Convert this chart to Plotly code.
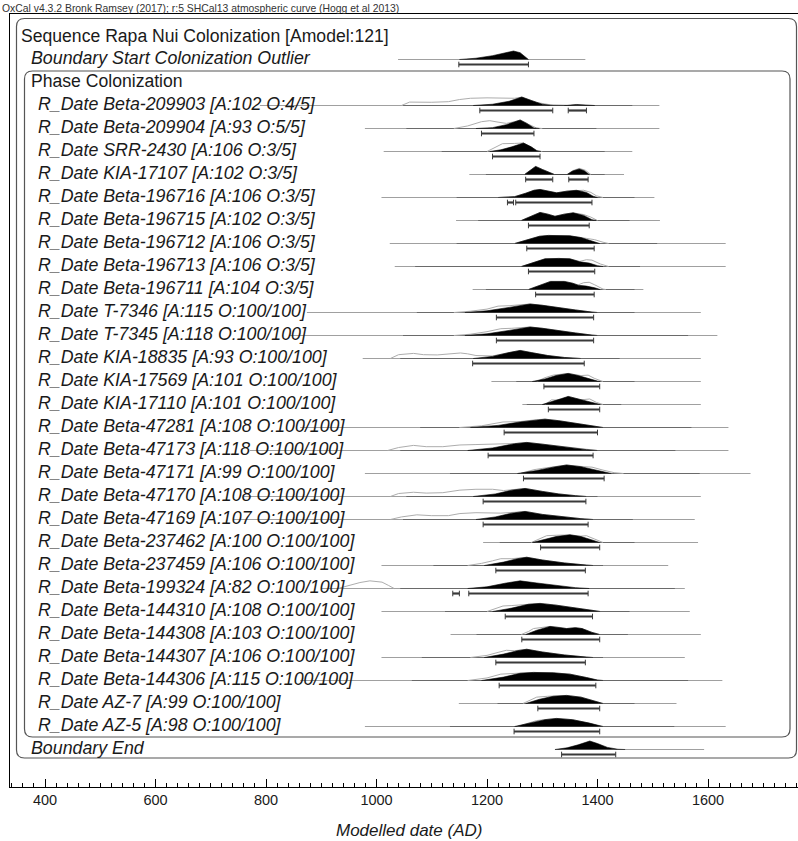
import plotly.graph_objects as go

# ---------------------------------------------------------------------------
# OxCal multiplot: Sequence Rapa Nui Colonization
# ---------------------------------------------------------------------------

header_text = ("OxCal v4.3.2 Bronk Ramsey (2017); r:5 SHCal13 atmospheric curve "
               "(Hogg et al 2013)")
sequence_title = "Sequence Rapa Nui Colonization [Amodel:121]"
phase_title = "Phase Colonization"
start_label = "Boundary Start Colonization Outlier"
end_label = "Boundary End"
axis_title = "Modelled date (AD)"

tick_values = [400, 600, 800, 1000, 1200, 1400, 1600]

row_labels = [
    "R_Date Beta-209903 [A:102 O:4/5]",
    "R_Date Beta-209904 [A:93 O:5/5]",
    "R_Date SRR-2430 [A:106 O:3/5]",
    "R_Date KIA-17107 [A:102 O:3/5]",
    "R_Date Beta-196716 [A:106 O:3/5]",
    "R_Date Beta-196715 [A:102 O:3/5]",
    "R_Date Beta-196712 [A:106 O:3/5]",
    "R_Date Beta-196713 [A:106 O:3/5]",
    "R_Date Beta-196711 [A:104 O:3/5]",
    "R_Date T-7346 [A:115 O:100/100]",
    "R_Date T-7345 [A:118 O:100/100]",
    "R_Date KIA-18835 [A:93 O:100/100]",
    "R_Date KIA-17569 [A:101 O:100/100]",
    "R_Date KIA-17110 [A:101 O:100/100]",
    "R_Date Beta-47281 [A:108 O:100/100]",
    "R_Date Beta-47173 [A:118 O:100/100]",
    "R_Date Beta-47171 [A:99 O:100/100]",
    "R_Date Beta-47170 [A:108 O:100/100]",
    "R_Date Beta-47169 [A:107 O:100/100]",
    "R_Date Beta-237462 [A:100 O:100/100]",
    "R_Date Beta-237459 [A:106 O:100/100]",
    "R_Date Beta-199324 [A:82 O:100/100]",
    "R_Date Beta-144310 [A:108 O:100/100]",
    "R_Date Beta-144308 [A:103 O:100/100]",
    "R_Date Beta-144307 [A:106 O:100/100]",
    "R_Date Beta-144306 [A:115 O:100/100]",
    "R_Date AZ-7 [A:99 O:100/100]",
    "R_Date AZ-5 [A:98 O:100/100]",
]

# full calendar span plotted for each date (years AD)
row_extent = [
    (789, 1512), (979, 1512), (1013, 1463), (1168, 1448), (1009, 1503),
    (1144, 1513), (1024, 1632), (1033, 1632), (1174, 1483), (874, 1587),
    (843, 1617), (975, 1587), (1208, 1587), (1264, 1587), (862, 1637),
    (771, 1637), (979, 1677), (760, 1587), (740, 1576), (1193, 1582),
    (1009, 1528), (900, 1558), (1009, 1567), (1134, 1587), (1009, 1558),
    (862, 1626), (1149, 1543), (979, 1632),
]

# span where the modelled distribution is non-negligible
row_core = [
    (1048, 1463), (1054, 1398), (1118, 1413), (1198, 1413), (1145, 1467),
    (1184, 1458), (1145, 1508), (1070, 1477), (1198, 1467), (1073, 1467),
    (1048, 1564), (1043, 1440), (1253, 1467), (1272, 1443), (1079, 1570),
    (1043, 1541), (1133, 1585), (1054, 1400), (1048, 1464), (1223, 1467),
    (1103, 1410), (1043, 1540), (1124, 1458), (1181, 1455), (1082, 1410),
    (1064, 1564), (1219, 1467), (1133, 1539),
]

# posterior (modelled) densities: (year AD, relative probability)
posterior = [
    [(1175, 0), (1210, 0.15), (1240, 0.5), (1263, 1.0), (1280, 0.6), (1300, 0.15),
     (1315, 0.03), (1345, 0.02), (1362, 0.12), (1378, 0.05), (1395, 0)],
    [(1180, 0), (1210, 0.1), (1235, 0.45), (1250, 0.75), (1260, 1.0), (1272, 0.6),
     (1285, 0.05), (1295, 0)],
    [(1205, 0), (1225, 0.2), (1245, 0.55), (1266, 1.0), (1280, 0.55), (1290, 0.1), (1298, 0)],
    [(1268, 0), (1278, 0.5), (1288, 0.95), (1300, 0.6), (1312, 0.25), (1322, 0),
     (1345, 0), (1355, 0.4), (1367, 0.65), (1376, 0.45), (1385, 0)],
    [(1220, 0), (1250, 0.1), (1270, 0.5), (1285, 0.85), (1296, 0.95), (1310, 0.75),
     (1326, 0.55), (1345, 0.75), (1362, 0.85), (1380, 0.6), (1392, 0.15), (1400, 0)],
    [(1262, 0), (1280, 0.5), (1296, 0.95), (1310, 0.75), (1323, 0.5), (1340, 0.75),
     (1356, 0.9), (1375, 0.6), (1390, 0.1), (1398, 0)],
    [(1250, 0), (1275, 0.45), (1295, 0.85), (1311, 0.95), (1330, 0.9), (1350, 0.9),
     (1370, 0.7), (1390, 0.3), (1404, 0)],
    [(1262, 0), (1285, 0.5), (1305, 0.9), (1330, 0.95), (1350, 0.9), (1368, 0.55),
     (1385, 0.4), (1400, 0.1), (1410, 0)],
    [(1275, 0), (1295, 0.5), (1315, 0.95), (1340, 0.95), (1355, 0.75), (1365, 0.5),
     (1380, 0.4), (1395, 0.2), (1405, 0)],
    [(1160, 0), (1200, 0.2), (1240, 0.6), (1265, 0.9), (1278, 1.0), (1300, 0.85),
     (1330, 0.55), (1360, 0.3), (1390, 0.05), (1400, 0)],
    [(1160, 0), (1200, 0.2), (1240, 0.6), (1265, 0.92), (1278, 1.0), (1300, 0.85),
     (1330, 0.55), (1360, 0.3), (1390, 0.05), (1400, 0)],
    [(1175, 0), (1210, 0.25), (1240, 0.7), (1260, 0.95), (1280, 0.7), (1310, 0.35),
     (1340, 0.12), (1370, 0)],
    [(1282, 0), (1305, 0.3), (1325, 0.7), (1347, 0.95), (1365, 0.7), (1385, 0.3),
     (1400, 0.05), (1405, 0)],
    [(1300, 0), (1320, 0.35), (1335, 0.7), (1347, 0.95), (1365, 0.65), (1385, 0.3),
     (1400, 0.05), (1405, 0)],
    [(1170, 0), (1220, 0.25), (1260, 0.65), (1290, 0.92), (1305, 0.98), (1330, 0.8),
     (1360, 0.5), (1390, 0.2), (1410, 0)],
    [(1165, 0), (1210, 0.3), (1250, 0.8), (1272, 0.95), (1300, 0.75), (1340, 0.4),
     (1380, 0.1), (1400, 0)],
    [(1255, 0), (1290, 0.35), (1320, 0.75), (1344, 1.0), (1370, 0.8), (1395, 0.45),
     (1410, 0.2), (1425, 0)],
    [(1175, 0), (1215, 0.3), (1245, 0.75), (1269, 0.95), (1300, 0.6), (1330, 0.3),
     (1360, 0.1), (1380, 0)],
    [(1180, 0), (1215, 0.3), (1245, 0.75), (1269, 0.95), (1300, 0.6), (1340, 0.3),
     (1370, 0.1), (1392, 0)],
    [(1282, 0), (1305, 0.35), (1325, 0.7), (1350, 0.9), (1370, 0.7), (1390, 0.3), (1404, 0)],
    [(1195, 0), (1230, 0.4), (1255, 0.8), (1272, 0.97), (1300, 0.65), (1340, 0.3),
     (1380, 0.05), (1392, 0)],
    [(1165, 0), (1200, 0.2), (1235, 0.65), (1260, 0.9), (1290, 0.65), (1330, 0.3),
     (1360, 0.1), (1385, 0)],
    [(1210, 0), (1245, 0.4), (1275, 0.85), (1296, 0.95), (1325, 0.75), (1360, 0.45),
     (1390, 0.15), (1405, 0)],
    [(1270, 0), (1290, 0.5), (1314, 0.95), (1330, 0.85), (1344, 0.7), (1360, 0.8),
     (1372, 0.7), (1390, 0.25), (1404, 0)],
    [(1195, 0), (1230, 0.4), (1255, 0.8), (1272, 0.97), (1300, 0.65), (1340, 0.3),
     (1380, 0.05), (1392, 0)],
    [(1190, 0), (1230, 0.4), (1260, 0.85), (1284, 0.95), (1320, 0.9), (1350, 0.75),
     (1380, 0.35), (1400, 0.05), (1410, 0)],
    [(1270, 0), (1295, 0.5), (1320, 0.85), (1344, 0.95), (1370, 0.75), (1390, 0.35),
     (1404, 0.05), (1410, 0)],
    [(1250, 0), (1280, 0.45), (1305, 0.8), (1326, 0.95), (1355, 0.8), (1385, 0.4),
     (1404, 0.05), (1410, 0)],
]

# unmodelled (calibrated) densities, drawn as a light outline
prior = [
    [(1045, 0), (1060, 0.4), (1100, 0.38), (1130, 0.45), (1150, 0.7), (1170, 0.85),
     (1200, 0.9), (1230, 0.88), (1250, 0.85), (1263, 0.98), (1290, 0.35), (1320, 0.03), (1340, 0)],
    [(1140, 0), (1165, 0.3), (1190, 0.8), (1205, 0.92), (1220, 0.75), (1235, 0.6),
     (1250, 0.8), (1260, 1.0), (1275, 0.5), (1290, 0.05), (1300, 0)],
    [(1200, 0), (1215, 0.5), (1228, 0.92), (1250, 0.95), (1266, 1.0), (1280, 0.5),
     (1292, 0.05), (1300, 0)],
    [(1268, 0), (1278, 0.5), (1288, 0.95), (1300, 0.6), (1312, 0.25), (1322, 0),
     (1345, 0), (1355, 0.45), (1367, 0.72), (1378, 0.5), (1388, 0)],
    [(1220, 0), (1250, 0.1), (1270, 0.5), (1285, 0.85), (1296, 0.95), (1310, 0.75),
     (1326, 0.55), (1345, 0.75), (1362, 0.85), (1375, 0.85), (1388, 0.6), (1398, 0.2), (1410, 0)],
    [(1262, 0), (1280, 0.5), (1296, 0.95), (1310, 0.75), (1323, 0.5), (1340, 0.75),
     (1356, 0.9), (1375, 0.7), (1388, 0.4), (1400, 0)],
    [(1250, 0), (1275, 0.45), (1295, 0.85), (1311, 0.95), (1330, 0.9), (1350, 0.9),
     (1380, 0.6), (1395, 0.45), (1410, 0.15), (1420, 0)],
    [(1262, 0), (1285, 0.5), (1305, 0.9), (1330, 0.95), (1350, 0.9), (1368, 0.6),
     (1380, 0.8), (1390, 0.75), (1405, 0.3), (1420, 0)],
    [(1275, 0), (1295, 0.5), (1315, 0.95), (1340, 0.95), (1355, 0.75), (1365, 0.55),
     (1375, 0.8), (1385, 0.85), (1395, 0.55), (1410, 0.05), (1415, 0)],
    [(1140, 0), (1170, 0.15), (1200, 0.4), (1220, 0.75), (1240, 0.8), (1265, 0.9),
     (1278, 1.0), (1300, 0.85), (1330, 0.55), (1360, 0.3), (1390, 0.05), (1400, 0)],
    [(1140, 0), (1170, 0.15), (1200, 0.45), (1225, 0.8), (1245, 0.85), (1265, 0.92),
     (1278, 1.0), (1300, 0.85), (1330, 0.55), (1360, 0.3), (1390, 0.05), (1400, 0)],
    [(1025, 0), (1040, 0.45), (1067, 0.6), (1085, 0.45), (1110, 0.42), (1135, 0.55),
     (1152, 0.65), (1165, 0.55), (1180, 0.35), (1210, 0.3), (1240, 0.7), (1260, 0.95),
     (1280, 0.7), (1310, 0.35), (1340, 0.12), (1370, 0)],
    [(1290, 0), (1305, 0.45), (1320, 0.75), (1347, 0.95), (1370, 0.7), (1383, 0.75),
     (1395, 0.35), (1410, 0)],
    [(1305, 0), (1317, 0.55), (1330, 0.5), (1347, 0.95), (1370, 0.55), (1386, 0.65),
     (1398, 0.25), (1410, 0)],
    [(1150, 0), (1190, 0.2), (1229, 0.65), (1260, 0.7), (1290, 0.92), (1305, 0.98),
     (1330, 0.8), (1360, 0.5), (1390, 0.2), (1410, 0)],
    [(1020, 0), (1040, 0.35), (1067, 0.6), (1090, 0.45), (1120, 0.45), (1151, 0.65),
     (1180, 0.7), (1211, 0.75), (1230, 0.8), (1250, 0.82), (1272, 0.95), (1300, 0.75),
     (1340, 0.4), (1380, 0.1), (1400, 0)],
    [(1260, 0), (1285, 0.45), (1300, 0.6), (1320, 0.8), (1344, 1.0), (1375, 0.8),
     (1390, 0.75), (1410, 0.4), (1430, 0.1), (1447, 0)],
    [(1025, 0), (1040, 0.35), (1067, 0.5), (1090, 0.4), (1120, 0.45), (1151, 0.75),
     (1180, 0.85), (1210, 0.85), (1230, 0.7), (1250, 0.85), (1269, 0.95), (1300, 0.6),
     (1330, 0.3), (1360, 0.1), (1380, 0)],
    [(1025, 0), (1045, 0.3), (1073, 0.55), (1100, 0.45), (1130, 0.45), (1151, 0.7),
     (1180, 0.8), (1210, 0.8), (1225, 0.75), (1250, 0.85), (1269, 0.95), (1300, 0.6),
     (1340, 0.3), (1370, 0.1), (1392, 0)],
    [(1280, 0), (1295, 0.45), (1308, 0.8), (1325, 0.85), (1350, 0.9), (1370, 0.75),
     (1380, 0.8), (1395, 0.4), (1410, 0)],
    [(1165, 0), (1190, 0.25), (1210, 0.55), (1225, 0.8), (1245, 0.8), (1272, 0.97),
     (1300, 0.65), (1340, 0.3), (1380, 0.05), (1392, 0)],
    [(930, 0), (950, 0.35), (970, 0.7), (988, 0.9), (1010, 0.75), (1022, 0.35), (1032, 0)],
    [(1200, 0), (1215, 0.35), (1229, 0.65), (1245, 0.7), (1275, 0.85), (1296, 0.95),
     (1325, 0.75), (1360, 0.45), (1390, 0.15), (1405, 0)],
    [(1262, 0), (1275, 0.35), (1284, 0.7), (1300, 0.8), (1314, 0.95), (1330, 0.85),
     (1344, 0.7), (1360, 0.8), (1372, 0.7), (1390, 0.25), (1404, 0)],
    [(1170, 0), (1200, 0.25), (1220, 0.6), (1235, 0.85), (1250, 0.8), (1272, 0.97),
     (1300, 0.65), (1340, 0.3), (1380, 0.05), (1392, 0)],
    [(1165, 0), (1200, 0.3), (1225, 0.75), (1250, 0.85), (1284, 0.95), (1320, 0.9),
     (1350, 0.75), (1380, 0.35), (1400, 0.05), (1410, 0)],
    [(1265, 0), (1280, 0.45), (1290, 0.75), (1310, 0.85), (1344, 0.95), (1370, 0.75),
     (1390, 0.35), (1404, 0.05), (1410, 0)],
    [(1255, 0), (1275, 0.45), (1290, 0.7), (1310, 0.85), (1326, 0.95), (1355, 0.8),
     (1385, 0.4), (1404, 0.05), (1410, 0)],
]

# 95.4% highest posterior density ranges
row_ranges = [
    [(1187, 1319), (1347, 1380)], [(1190, 1285)], [(1210, 1296)],
    [(1270, 1319), (1348, 1383)], [(1237, 1248), (1252, 1390)], [(1275, 1385)],
    [(1272, 1394)], [(1275, 1395)], [(1288, 1394)], [(1217, 1393)], [(1217, 1393)],
    [(1174, 1376)], [(1303, 1404)], [(1311, 1404)], [(1231, 1400)], [(1202, 1392)],
    [(1266, 1412)], [(1193, 1379)], [(1193, 1383)], [(1297, 1404)], [(1216, 1378)],
    [(1138, 1150), (1167, 1383)], [(1233, 1391)], [(1263, 1404)], [(1216, 1378)],
    [(1222, 1397)], [(1292, 1404)], [(1249, 1404)],
]

# boundaries
start_extent = (1039, 1378)
start_posterior = [(1150, 0), (1180, 0.15), (1210, 0.45), (1235, 0.85), (1248, 1.0),
                   (1260, 0.8), (1268, 0.35), (1275, 0)]
start_ranges = [(1149, 1275)]

end_extent = (1323, 1593)
end_posterior = [(1323, 0), (1345, 0.2), (1365, 0.55), (1386, 1.0), (1400, 0.7),
                 (1418, 0.25), (1437, 0.03), (1450, 0)]
end_ranges = [(1335, 1433)]

# ---------------------------------------------------------------------------
# layout geometry (page pixels)
# ---------------------------------------------------------------------------
W, H = 798, 841
PLOT_L, PLOT_T, PLOT_B = 10, 14, 787
PX_PER_200 = 110.5           # pixels per 200 years
X400 = 45                     # pixel column of AD 400


def year_at(px):
    return 400 + (px - X400) * 200.0 / PX_PER_200


def paper_x(px):
    return (px - PLOT_L) / (W - PLOT_L)


def paper_y(py):
    return (PLOT_B - py) / (PLOT_B - PLOT_T)


ROW0 = 105.5                  # baseline of the first dated row
STEP = 23.0                   # row pitch
PEAK = 8.5                    # height of a density at probability 1
BAR_GAP = 5.0                 # range bar offset below the baseline

FONT = "Liberation Sans, Arial, sans-serif"
INK = "#1a1a1a"
LABEL_SIZE = 17.8

fig = go.Figure()


def add_line(x0, x1, y, color, width):
    fig.add_trace(go.Scatter(x=[x0, x1], y=[y, y], mode="lines",
                             line=dict(color=color, width=width),
                             hoverinfo="skip", showlegend=False))


def add_density(pts, base, fill):
    xs = [p[0] for p in pts]
    ys = [base - p[1] * PEAK for p in pts]
    if fill:
        fig.add_trace(go.Scatter(x=xs, y=ys, mode="lines", fill="toself",
                                 fillcolor="black", line=dict(color="black", width=0.6),
                                 hoverinfo="skip", showlegend=False))
    else:
        fig.add_trace(go.Scatter(x=xs, y=ys, mode="lines",
                                 line=dict(color="#adadad", width=1),
                                 hoverinfo="skip", showlegend=False))


def add_ranges(ranges, base):
    yb = base + BAR_GAP
    for lo, hi in ranges:
        add_line(lo, hi, yb, "#3a3a3a", 2.2)
        fig.add_trace(go.Scatter(x=[lo, hi], y=[yb, yb], mode="markers",
                                 marker=dict(symbol="line-ns", size=4,
                                             line=dict(color="#3a3a3a", width=1)),
                                 hoverinfo="skip", showlegend=False))


def add_text(px, py, text, size, anchor="left", color=INK):
    fig.add_annotation(x=paper_x(px), y=paper_y(py), text=text,
                       xref="paper", yref="paper", xanchor=anchor, yanchor="middle",
                       showarrow=False, font=dict(family=FONT, size=size, color=color))


def add_row(label, base, extent, core, post, pri, ranges, text_x):
    add_line(extent[0], extent[1], base, "#a0a0a0", 1)
    if core is not None:
        add_line(core[0], core[1], base, "#6a6a6a", 1)
    if pri is not None:
        add_density(pri, base, False)
    add_density(post, base, True)
    add_ranges(ranges, base)
    add_text(text_x, base - 1.5, f"<i>{label}</i>", LABEL_SIZE)


# group boxes with rounded corners
def rounded_box(px0, py0, px1, py1, r=8):
    rx = r * 200.0 / PX_PER_200
    x0, x1 = year_at(px0), year_at(px1)
    return (f"M {x0 + rx},{py0} L {x1 - rx},{py0} Q {x1},{py0} {x1},{py0 + r} "
            f"L {x1},{py1 - r} Q {x1},{py1} {x1 - rx},{py1} "
            f"L {x0 + rx},{py1} Q {x0},{py1} {x0},{py1 - r} "
            f"L {x0},{py0 + r} Q {x0},{py0} {x0 + rx},{py0} Z")


fig.add_shape(type="path", path=rounded_box(16.5, 18.5, 796.5, 758),
              xref="x", yref="y", line=dict(color="#555555", width=1.2))
fig.add_shape(type="path", path=rounded_box(24.5, 71, 790, 737),
              xref="x", yref="y", line=dict(color="#555555", width=1.2))

# group titles
add_text(19, ROW0 - 3 * STEP - 1, sequence_title, 17.6)
add_text(29, ROW0 - STEP - 1.5, phase_title, 17.6)

# boundaries and dated rows
add_row(start_label, ROW0 - 2 * STEP, start_extent, None, start_posterior, None,
        start_ranges, 29)
for i, lab in enumerate(row_labels):
    add_row(lab, ROW0 + i * STEP, row_extent[i], row_core[i], posterior[i], prior[i],
            row_ranges[i], 36)
add_row(end_label, ROW0 + len(row_labels) * STEP, end_extent, None, end_posterior,
        None, end_ranges, 29)

# header line and axis title
add_text(0, 8.5, header_text, 10.4, color="#333333")
add_text(409, 830, f"<i>{axis_title}</i>", 17, anchor="center")

fig.update_layout(
    width=W, height=H,
    margin=dict(l=PLOT_L, r=0, t=PLOT_T, b=H - PLOT_B),
    paper_bgcolor="white", plot_bgcolor="white",
    showlegend=False,
    xaxis=dict(range=[year_at(PLOT_L), year_at(W)], tickvals=tick_values,
               ticks="inside", ticklen=8, tickwidth=1, tickcolor="black",
               minor=dict(dtick=20, tick0=0, ticks="inside", ticklen=4,
                          tickcolor="black", tickwidth=1),
               showline=True, linecolor="black", linewidth=1, mirror=True,
               showgrid=False, zeroline=False,
               tickfont=dict(family=FONT, size=14.5, color=INK), ticklabelstandoff=0),
    yaxis=dict(range=[PLOT_B, PLOT_T], showline=True, linecolor="black", linewidth=1,
               showticklabels=False, ticks="", showgrid=False, zeroline=False),
)

fig.write_html("out.html")
